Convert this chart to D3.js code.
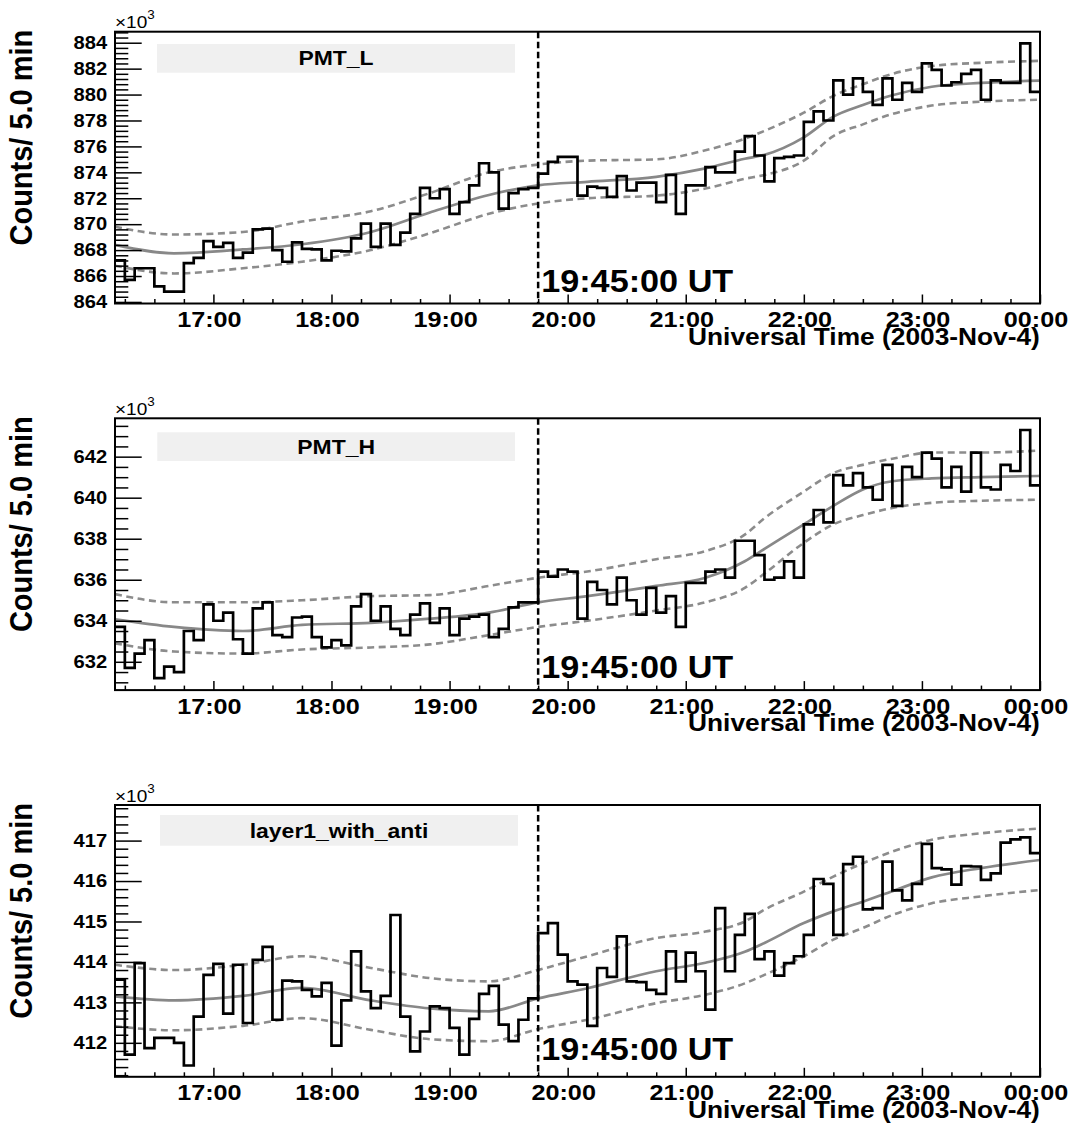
<!DOCTYPE html>
<html>
<head>
<meta charset="utf-8">
<script src="https://cdn.jsdelivr.net/npm/d3@7"></script>
<style>
  body { margin: 0; background: #fff; }
  svg { display: block; font-family: "Liberation Sans", Arial, Helvetica, sans-serif; font-weight: bold; }
</style>
</head>
<body>
<svg id="chart" width="1075" height="1132"></svg>
<script>
// ---- data ---------------------------------------------------------------
const binStart = "2003-11-04T16:10:00Z";   // first 5-minute bin
const binMinutes = 5;
const timeRange = ["2003-11-04T16:10:00Z", "2003-11-05T00:00:00Z"];
const markerTime = "2003-11-04T19:45:00Z";
const markerLabel = "19:45:00 UT";
const xTitle = "Universal Time (2003-Nov-4)";
const yTitle = "Counts/ 5.0 min";
const panelNames = ["PMT_L", "PMT_H", "layer1_with_anti"];

// counts per 5 min bin (x10^3)
const countsPMT_L = [
  867.2, 865.7, 866.6, 866.6, 865.2, 864.8, 864.8, 867.0, 867.4, 868.7,
  868.25, 868.55, 867.4, 867.8, 869.6, 869.65, 868.0, 867.1, 868.6, 868.1,
  868.05, 867.2, 867.95, 867.9, 868.9, 870.05, 868.25, 870.05, 868.4, 869.35,
  870.8, 872.8, 872.0, 872.7, 870.8, 871.7, 873.0, 874.7, 874.0, 871.2,
  872.4, 872.7, 872.8, 873.9, 874.8, 875.2, 875.2, 872.2, 872.9, 872.8,
  872.1, 873.7, 872.6, 873.2, 873.2, 871.7, 873.8, 870.8, 873.0, 873.0,
  874.4, 874.0, 874.0, 875.6, 876.8, 875.3, 873.3, 875.1, 875.2, 875.3,
  877.9, 878.7, 878.0, 881.1, 880.0, 881.25, 880.2, 879.2, 881.25, 879.6,
  880.9, 880.2, 882.4, 881.9, 880.7, 880.95, 881.6, 881.9, 879.6, 881.1,
  880.9, 880.9, 883.95, 880.2
];
const countsPMT_H = [
  633.7, 631.7, 632.4, 633.06, 631.2, 631.76, 631.5, 633.5, 633.06, 634.8,
  634.0, 634.4, 633.1, 632.4, 634.6, 634.9, 633.3, 633.2, 634.16, 634.2,
  633.2, 632.7, 633.06, 632.8, 634.7, 635.3, 634.0, 634.7, 633.6, 633.3,
  634.3, 634.85, 633.9, 634.6, 633.3, 634.1, 634.2, 634.3, 633.2, 633.6,
  634.65, 634.9, 634.9, 636.4, 636.15, 636.5, 636.4, 634.1, 635.9, 635.5,
  634.8, 636.1, 635.0, 634.3, 635.6, 634.4, 635.2, 633.7, 635.85, 635.85,
  636.4, 636.5, 636.1, 637.9, 637.9, 637.2, 636.0, 636.1, 636.9, 636.1,
  638.7, 639.4, 638.8, 641.1, 640.6, 641.2, 640.5, 639.9, 641.6, 639.6,
  641.5, 641.0, 642.2, 641.9, 640.5, 641.5, 640.3, 642.2, 640.5, 640.4,
  641.6, 641.3, 643.3, 640.6
];
const countsLayer1 = [
  413.56, 411.71, 413.97, 411.87, 412.12, 412.12, 412.0, 411.44, 412.65, 413.68,
  413.95, 412.72, 413.93, 412.49, 414.05, 414.37, 412.57, 413.54, 413.52, 413.31,
  413.15, 413.48, 411.93, 413.05, 414.26, 413.27, 412.86, 413.16, 415.16, 412.65,
  411.79, 412.28, 412.9, 412.86, 412.37, 411.71, 412.59, 413.21, 413.41, 412.45,
  412.04, 412.57, 413.1, 414.71, 414.96, 414.18, 413.52, 413.44, 412.42, 413.85,
  413.63, 414.63, 413.52, 413.5, 413.31, 413.21, 414.26, 413.52, 414.23, 413.77,
  412.82, 415.33, 413.77, 414.67, 415.19, 414.07, 414.26, 413.66, 413.97, 414.14,
  414.67, 416.05, 415.93, 414.67, 416.42, 416.6, 415.3, 415.33, 416.48, 415.77,
  415.52, 415.93, 416.92, 416.32, 416.29, 415.91, 416.37, 416.36, 416.03, 416.19,
  416.95, 417.03, 417.08, 416.69
];

// smoothed trend and its band, sampled at these times
const trendTimes = ["16:10", "16:40", "17:15", "17:45", "18:20", "18:50", "19:20", "19:45", "20:10", "20:45",
                    "21:10", "21:30", "21:40", "22:00", "22:15", "22:30", "22:45", "23:05", "23:30", "24:00"];
const trendPMT_L = [868.4, 867.75, 868.05, 868.45, 869.4, 870.9, 872.25, 873.0, 873.27, 873.65,
                    874.3, 875.05, 875.35, 876.7, 878.3, 879.2, 879.95, 880.6, 880.9, 881.07];
const upperPMT_L = [869.8, 869.2, 869.4, 870.2, 871.0, 872.4, 874.0, 874.6, 874.9, 875.0,
                    875.7, 876.6, 877.2, 878.6, 879.9, 880.8, 881.6, 882.2, 882.45, 882.6];
const lowerPMT_L = [866.8, 866.2, 866.6, 867.1, 868.0, 869.3, 870.8, 871.6, 872.0, 872.2,
                    872.75, 873.5, 873.8, 874.9, 876.8, 877.7, 878.5, 879.15, 879.45, 879.6];
const trendPMT_H = [634.07, 633.7, 633.5, 633.8, 633.9, 634.1, 634.4, 634.9, 635.2, 635.7,
                    636.1, 636.9, 637.5, 638.7, 639.6, 640.4, 640.8, 640.94, 641.0, 641.06];
const upperPMT_H = [635.3, 634.9, 634.9, 635.0, 635.2, 635.25, 635.7, 636.1, 636.4, 637.0,
                    637.4, 638.2, 639.0, 640.3, 641.2, 641.6, 641.9, 642.2, 642.2, 642.3];
const lowerPMT_H = [632.9, 632.5, 632.4, 632.6, 632.7, 632.85, 633.3, 633.7, 634.0, 634.5,
                    634.9, 635.6, 636.3, 637.8, 638.7, 639.15, 639.5, 639.75, 639.85, 639.9];
const trendLayer1 = [413.15, 413.05, 413.16, 413.36, 413.05, 412.85, 412.78, 413.1, 413.35, 413.77,
                     413.98, 414.25, 414.47, 414.96, 415.25, 415.49, 415.75, 416.09, 416.32, 416.52];
const upperLayer1 = [413.93, 413.8, 413.93, 414.14, 413.85, 413.6, 413.52, 413.8, 414.14, 414.59,
                     414.75, 415.0, 415.29, 415.74, 416.11, 416.44, 416.73, 417.02, 417.18, 417.3];
const lowerLayer1 = [412.41, 412.31, 412.42, 412.61, 412.32, 412.09, 412.04, 412.34, 412.57, 412.98,
                     413.19, 413.47, 413.68, 414.14, 414.55, 414.84, 415.16, 415.45, 415.62, 415.78];

// y axis ranges (x10^3) and tick steps
const yRanges = [[863.88, 884.85], [630.62, 643.87], [411.16, 417.88]];
const yMajorSteps = [2, 2, 1];
const yMinorSteps = [0.4, 0.5, 0.2];

// ---- layout -------------------------------------------------------------
const frameLeft = 115, frameRight = 1040, frameHeight = 271.8;
const frameTops = [31.7, 418.3, 805];
const boxes = [[157, 44, 358, 28.7], [157.3, 432.3, 357.7, 28.7], [160, 815, 358, 30.7]];
const markerTextGap = [11.6, 11.7, 17];
const stretch = 1.12;

const panels = [
  { name: panelNames[0], counts: countsPMT_L, trend: trendPMT_L, upper: upperPMT_L, lower: lowerPMT_L },
  { name: panelNames[1], counts: countsPMT_H, trend: trendPMT_H, upper: upperPMT_H, lower: lowerPMT_H },
  { name: panelNames[2], counts: countsLayer1, trend: trendLayer1, upper: upperLayer1, lower: lowerLayer1 }
];

const svg = d3.select("#chart");
const t0 = new Date(binStart);
const x = d3.scaleUtc().domain(timeRange.map(d => new Date(d))).range([frameLeft, frameRight]);

function clockToDate(s) {
  const [h, m] = s.split(":").map(Number);
  return new Date(Date.UTC(2003, 10, 4, h, m));
}
const trendDates = trendTimes.map(clockToDate);

function stepRange(lo, hi, step) {
  const k0 = Math.ceil(lo / step - 1e-9), k1 = Math.floor(hi / step + 1e-9);
  return d3.range(k0, k1 + 1).map(k => +(k * step).toFixed(4));
}

const hourTicks = d3.utcHour.range(d3.utcHour.ceil(x.domain()[0]), d3.utcMinute.offset(x.domain()[1], 1));
const quarterTicks = d3.utcMinute.every(15).range(x.domain()[0], d3.utcMinute.offset(x.domain()[1], 1))
  .filter(d => d.getUTCMinutes() !== 0);
const fmt = d3.utcFormat("%H:%M");

panels.forEach((p, i) => {
  const top = frameTops[i], bottom = top + frameHeight;
  const y = d3.scaleLinear().domain(yRanges[i]).range([bottom, top]);
  const g = svg.append("g");

  const clipId = "clip" + i;
  svg.append("clipPath").attr("id", clipId).append("rect")
    .attr("x", frameLeft).attr("y", top).attr("width", frameRight - frameLeft).attr("height", frameHeight);

  // name box
  const b = boxes[i];
  g.append("rect").attr("x", b[0]).attr("y", b[1]).attr("width", b[2]).attr("height", b[3]).attr("fill", "#f0f0f0");
  g.append("text")
    .attr("transform", `translate(${b[0] + b[2] / 2},${b[1] + b[3] * 0.74}) scale(${stretch},1)`)
    .attr("text-anchor", "middle").attr("font-size", 20.5).attr("fill", "#000")
    .text(p.name);

  const plot = g.append("g").attr("clip-path", `url(#${clipId})`);

  // band and trend
  const trendLine = d3.line().x((d, k) => x(trendDates[k])).y(d => y(d)).curve(d3.curveMonotoneX);
  [p.upper, p.lower].forEach(arr => {
    plot.append("path").attr("d", trendLine(arr)).attr("fill", "none")
      .attr("stroke", "#8c8c8c").attr("stroke-width", 2.6).attr("stroke-dasharray", "7,4.5");
  });
  plot.append("path").attr("d", trendLine(p.trend)).attr("fill", "none")
    .attr("stroke", "#888").attr("stroke-width", 2.7);

  // histogram
  const pts = p.counts.map((v, k) => [d3.utcMinute.offset(t0, k * binMinutes), v]);
  pts.push([d3.utcMinute.offset(t0, p.counts.length * binMinutes), p.counts[p.counts.length - 1]]);
  plot.append("path")
    .attr("d", d3.line().x(d => x(d[0])).y(d => y(d[1])).curve(d3.curveStepAfter)(pts))
    .attr("fill", "none").attr("stroke", "#000").attr("stroke-width", 2.7).attr("stroke-linejoin", "miter");

  // marker line
  const xm = x(new Date(markerTime));
  g.append("line").attr("x1", xm).attr("x2", xm).attr("y1", top).attr("y2", bottom)
    .attr("stroke", "#000").attr("stroke-width", 2.5).attr("stroke-dasharray", "6.5,3.5");
  g.append("text")
    .attr("transform", `translate(${xm + 3},${bottom - markerTextGap[i]}) scale(1.07,1)`)
    .attr("font-size", 32).attr("fill", "#000").text(markerLabel);

  // y axis
  const yMajor = stepRange(yRanges[i][0], yRanges[i][1], yMajorSteps[i]);
  const yMinor = stepRange(yRanges[i][0], yRanges[i][1], yMinorSteps[i])
    .filter(v => !yMajor.some(m => Math.abs(m - v) < 1e-6));
  const ya = g.append("g").attr("transform", `translate(${frameLeft},0)`)
    .call(d3.axisLeft(y).tickValues(yMajor).tickSize(-26.7).tickPadding(7).tickFormat(d3.format("d")));
  const yb = g.append("g").attr("transform", `translate(${frameLeft},0)`)
    .call(d3.axisLeft(y).tickValues(yMinor).tickSize(-13.3).tickFormat(""));

  // x axis
  const xa = g.append("g").attr("transform", `translate(0,${bottom})`)
    .call(d3.axisBottom(x).tickValues(hourTicks).tickSize(-9).tickPadding(7.5).tickFormat(fmt));
  const xb = g.append("g").attr("transform", `translate(0,${bottom})`)
    .call(d3.axisBottom(x).tickValues(quarterTicks).tickSize(-4.5).tickFormat(""));

  [ya, yb, xa, xb].forEach(a => {
    a.select(".domain").remove();
    a.selectAll(".tick line").attr("stroke", "#000").attr("stroke-width", 1.5);
  });
  ya.selectAll(".tick text").attr("font-size", 18).attr("fill", "#000")
    .attr("font-family", null).attr("transform", `scale(${stretch},1)`);
  xa.selectAll(".tick text").attr("font-size", 22.5).attr("fill", "#000").attr("x", -4)
    .attr("font-family", null).attr("transform", `scale(${stretch},1)`);

  // frame
  g.append("rect").attr("x", frameLeft).attr("y", top).attr("width", frameRight - frameLeft).attr("height", frameHeight)
    .attr("fill", "none").attr("stroke", "#000").attr("stroke-width", 2);

  // exponent label
  const ex = g.append("text").attr("transform", `translate(${frameLeft},${top - 3.5}) scale(${stretch},1)`)
    .attr("font-size", 17).attr("font-weight", "normal").attr("fill", "#000");
  ex.append("tspan").text("\u00d710");
  ex.append("tspan").attr("dy", -9).attr("font-size", 12).text("3");

  // axis titles
  g.append("text")
    .attr("transform", `translate(31.5,${top - 2}) scale(1.05,1) rotate(-90)`)
    .attr("text-anchor", "end").attr("font-size", 29).attr("fill", "#000").text(yTitle);
  g.append("text")
    .attr("transform", `translate(688,${bottom + 41}) scale(${stretch},1)`)
    .attr("text-anchor", "start").attr("font-size", 23.5).attr("fill", "#000").text(xTitle);
});
</script>
</body>
</html>
